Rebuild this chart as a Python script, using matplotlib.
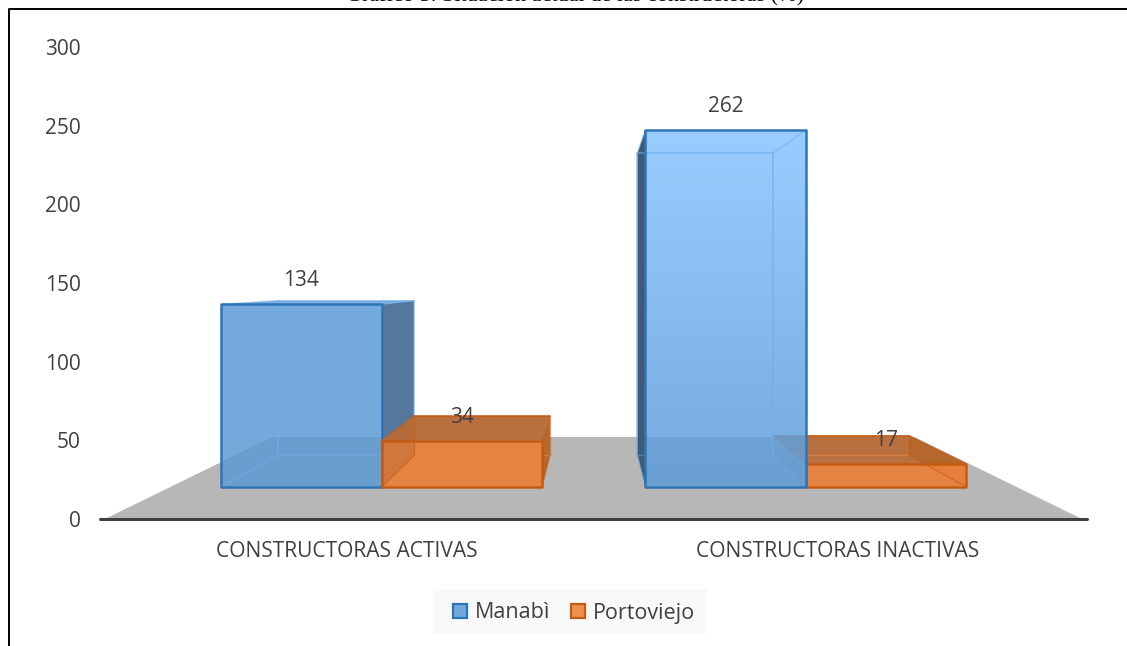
import numpy as np
import matplotlib
matplotlib.use("Agg")
import matplotlib.pyplot as plt
from matplotlib.colors import LinearSegmentedColormap
from matplotlib.lines import Line2D
from matplotlib.patches import Patch, Polygon, Rectangle

categories = ["CONSTRUCTORAS ACTIVAS", "CONSTRUCTORAS INACTIVAS"]
series_names = ["Manabì", "Portoviejo"]
manabi = [134, 262]
portoviejo = [34, 17]
y_ticks = [0, 50, 100, 150, 200, 250, 300]
title = "Gráfico 5. Situación actual de las constructoras (%)"

W, H = 1127, 646
plt.rcParams["font.family"] = ["Open Sans", "DejaVu Sans"]
TEXT = "#404040"

fig = plt.figure(figsize=(W / 100, H / 100), dpi=100, facecolor="white")
ax = fig.add_axes([100 / W, 1 - 519 / H, 987 / W, 472 / H])
ax.set_xlim(-0.5, 1.5)
ax.set_ylim(0, 300)
ax.patch.set_visible(False)

# perspective of the 3-D plot
VX, VY = 0.5, 152.0
K_FRONT, K_BACK, K_FLOOR = 0.866, 0.733, 0.657
BAR_W = 0.3755
CAT_X = [0.004, 0.997]


def proj(x, v, k):
    return (VX + (x - VX) * k, VY + (v - VY) * k)


def box(x0, x1, v):
    f = [proj(x0, 0, K_FRONT), proj(x1, 0, K_FRONT), proj(x1, v, K_FRONT), proj(x0, v, K_FRONT)]
    b = [proj(x0, 0, K_BACK), proj(x1, 0, K_BACK), proj(x1, v, K_BACK), proj(x0, v, K_BACK)]
    return f, b


def face(pts, fc, z, ec="none", lw=0.0, alpha=None):
    p = Polygon(pts, closed=True, facecolor=fc, edgecolor=ec, linewidth=lw, alpha=alpha,
                zorder=z, joinstyle="round")
    ax.add_patch(p)
    return p


def edge(a, b, color, lw, z, alpha=1.0):
    ax.plot([a[0], b[0]], [a[1], b[1]], color=color, lw=lw, alpha=alpha, zorder=z,
            solid_capstyle="round")


def gradient_face(pts, top, bottom, z, alpha):
    cmap = LinearSegmentedColormap.from_list("g", [top, bottom])
    xs = [p[0] for p in pts]
    ys = [p[1] for p in pts]
    im = ax.imshow(np.linspace(0, 1, 256).reshape(-1, 1), cmap=cmap, aspect="auto",
                   extent=(min(xs), max(xs), min(ys), max(ys)), origin="upper",
                   alpha=alpha, zorder=z, interpolation="bilinear")
    clip = Polygon(pts, closed=True, transform=ax.transData)
    im.set_clip_path(clip)


def draw_blue(i, v, z, top, bottom, side):
    cx = CAT_X[i]
    f, b = box(cx - BAR_W, cx, v)
    # outer side face (dark)
    if i == 0:
        face([f[1], b[1], b[2], f[2]], side, z)
        face([f[3], b[3], b[2], f[2]], "#7FB0E0", z)
    else:
        face([f[0], b[0], b[3], f[3]], side, z)
    gradient_face(f, top, bottom, z + 1, 0.85)
    inner = "#6FAEE8"
    edge(b[0], b[1], inner, 1.0, z + 2, 0.45)
    edge(b[1], b[2], inner, 1.1, z + 2, 0.7)
    edge(b[2], b[3], inner, 1.1, z + 2, 0.7)
    edge(b[3], b[0], inner, 1.1, z + 2, 0.7)
    for a, c in zip(f, b):
        edge(a, c, inner, 1.0, z + 2, 0.55)
    face(f, "none", z + 3, ec="#2E75B6", lw=1.8)


def draw_orange(i, v, z):
    cx = CAT_X[i]
    f, b = box(cx, cx + BAR_W, v)
    face([f[3], f[2], b[2], b[3]], "#B9703F", z)
    face([f[1], b[1], b[2], f[2]], "#B5672C", z)
    face(f, "#E8813C", z + 1, alpha=0.95)
    face([f[0], b[0], b[3], f[3]], "#A05A28", z + 2, alpha=0.22)
    inner = "#C55A11"
    for a, c in zip(f, b):
        edge(a, c, inner, 1.0, z + 2, 0.6)
    edge(b[0], b[1], "#F08A45", 1.0, z + 2, 0.5)
    edge(b[1], b[2], inner, 1.0, z + 2, 0.6)
    edge(b[2], b[3], inner, 1.3, z + 2, 0.85)
    edge(b[3], b[0], inner, 1.0, z + 2, 0.6)
    face(f, "none", z + 3, ec="#C55A11", lw=1.8)


# floor
face([proj(-0.49, 0, 1), proj(1.49, 0, 1), proj(1.49, 0, K_FLOOR), proj(-0.49, 0, K_FLOOR)],
     "#B7B7B7", 1)

# first category: blue behind orange; second: orange behind blue
draw_blue(0, manabi[0], 5, "#5A9BD8", "#5C9AD4", "#54779B")
draw_orange(0, portoviejo[0], 10)
draw_orange(1, portoviejo[1], 5)
draw_blue(1, manabi[1], 10, "#88C4FF", "#5C9BD8", "#3F5A77")

# data labels
label_values = [manabi[0], portoviejo[0], manabi[1], portoviejo[1]]
label_x = [CAT_X[0] - BAR_W / 2, CAT_X[0] + BAR_W / 2, CAT_X[1] - BAR_W / 2, CAT_X[1] + BAR_W / 2]
for x, v in zip(label_x, label_values):
    ax.annotate(str(v), proj(x, v, K_FRONT), xytext=(0, 18), textcoords="offset pixels",
                ha="center", va="baseline", fontsize=15, color=TEXT, zorder=20)

# axes
ax.set_xticks([0, 0.995], categories)
ax.set_yticks(y_ticks)
ax.tick_params(axis="both", length=0, labelcolor=TEXT)
ax.tick_params(axis="x", labelsize=15.1, pad=16)
ax.tick_params(axis="y", labelsize=15, pad=14)
for name in ("top", "left", "right"):
    ax.spines[name].set_visible(False)
ax.spines["bottom"].set_color("#404040")
ax.spines["bottom"].set_linewidth(2.2)
ax.spines["bottom"].set_capstyle("round")
ax.spines["bottom"].set_zorder(3)

# legend on its own pale panel
fig.add_artist(Rectangle((433 / W, 1 - 634 / H), 274 / W, 45 / H, facecolor="#F9F9F9",
                         edgecolor="none", transform=fig.transFigure, zorder=0))
handles = [Patch(facecolor="#72A7DA", edgecolor="#2E75B6", linewidth=1.6),
           Patch(facecolor="#EE8E4F", edgecolor="#C55A11", linewidth=1.6)]
leg = fig.legend(handles, series_names, loc="center", bbox_to_anchor=(574 / W, 1 - 613 / H),
                 ncol=2, frameon=False, fontsize=15.5, handlelength=0.64, handleheight=0.64,
                 handletextpad=0.38, columnspacing=0.98, borderpad=0, borderaxespad=0,
                 labelcolor=TEXT)
leg.set_zorder(5)

# page border and the cut-off caption above it
fig.add_artist(Line2D([8.5 / W, 8.5 / W, 1], [0, 1 - 8.5 / H, 1 - 8.5 / H],
                      color="black", lw=1.4, transform=fig.transFigure))
fig.text(575 / W, 1 - 1.5 / H, title, ha="center", va="baseline", fontsize=16,
         family="Liberation Serif", color="black")

fig.savefig("out.png", dpi=100)
